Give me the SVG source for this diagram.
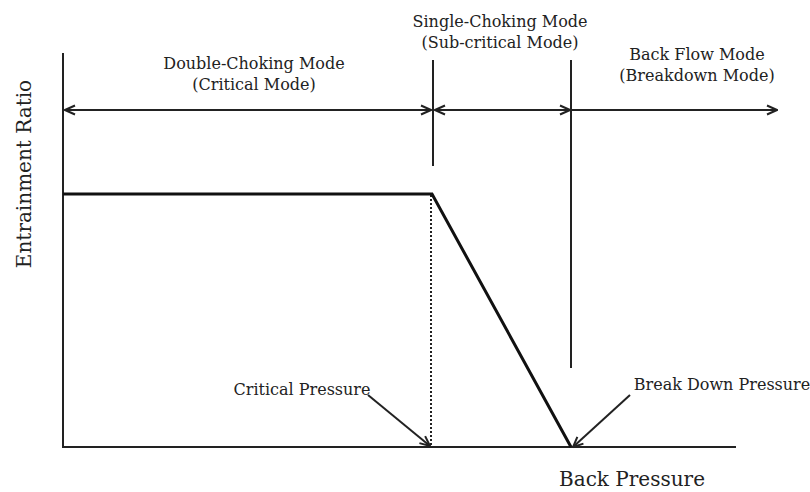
<svg xmlns="http://www.w3.org/2000/svg" width="810" height="492" viewBox="0 0 810 492">
<defs>
<marker id="ah" viewBox="0 0 12 12" refX="11" refY="6" markerWidth="12" markerHeight="12" markerUnits="userSpaceOnUse" orient="auto-start-reverse">
<path d="M1,1.5 L11,6 L1,10.5" fill="none" stroke="#222" stroke-width="2"/>
</marker>
</defs>
<style>
text{font-family:"DejaVu Serif","Liberation Serif",serif;fill:#222;font-size:16px}
text.big{font-size:20px}
.ln{stroke:#222;stroke-width:2;fill:none}
</style>
<rect width="810" height="492" fill="#fff"/>
<g id="axes">
<path class="ln" d="M63,53 V447 H736"/>
</g>
<g id="connectors">
<line class="ln" x1="65" y1="110" x2="431" y2="110" marker-start="url(#ah)" marker-end="url(#ah)"/>
<line class="ln" x1="435" y1="110" x2="570" y2="110" marker-start="url(#ah)" marker-end="url(#ah)"/>
<line class="ln" x1="572" y1="110" x2="777" y2="110" marker-end="url(#ah)"/>
<line class="ln" x1="433" y1="60" x2="433" y2="166"/>
<line class="ln" x1="571" y1="60" x2="571" y2="368"/>
<line stroke="#222" stroke-width="2" stroke-dasharray="2,2" x1="431" y1="195" x2="431" y2="446"/>
<path d="M63,194 H432 L571,447" fill="none" stroke="#111" stroke-width="3"/>
<line class="ln" x1="368" y1="395" x2="430" y2="446" marker-end="url(#ah)"/>
<line class="ln" x1="630" y1="395" x2="573" y2="447" marker-end="url(#ah)"/>
</g>
<g id="labels">
<text x="254" y="69" text-anchor="middle">Double-Choking Mode</text>
<text x="254" y="90" text-anchor="middle">(Critical Mode)</text>
<text x="500" y="27" text-anchor="middle">Single-Choking Mode</text>
<text x="500" y="48" text-anchor="middle">(Sub-critical Mode)</text>
<text x="697" y="60" text-anchor="middle">Back Flow Mode</text>
<text x="697" y="81" text-anchor="middle">(Breakdown Mode)</text>
<text x="302" y="395" text-anchor="middle">Critical Pressure</text>
<text x="722" y="390" text-anchor="middle">Break Down Pressure</text>
<text class="big" x="632" y="486" text-anchor="middle">Back Pressure</text>
<text class="big" transform="translate(31,174) rotate(-90)" text-anchor="middle">Entrainment Ratio</text>
</g>
</svg>
